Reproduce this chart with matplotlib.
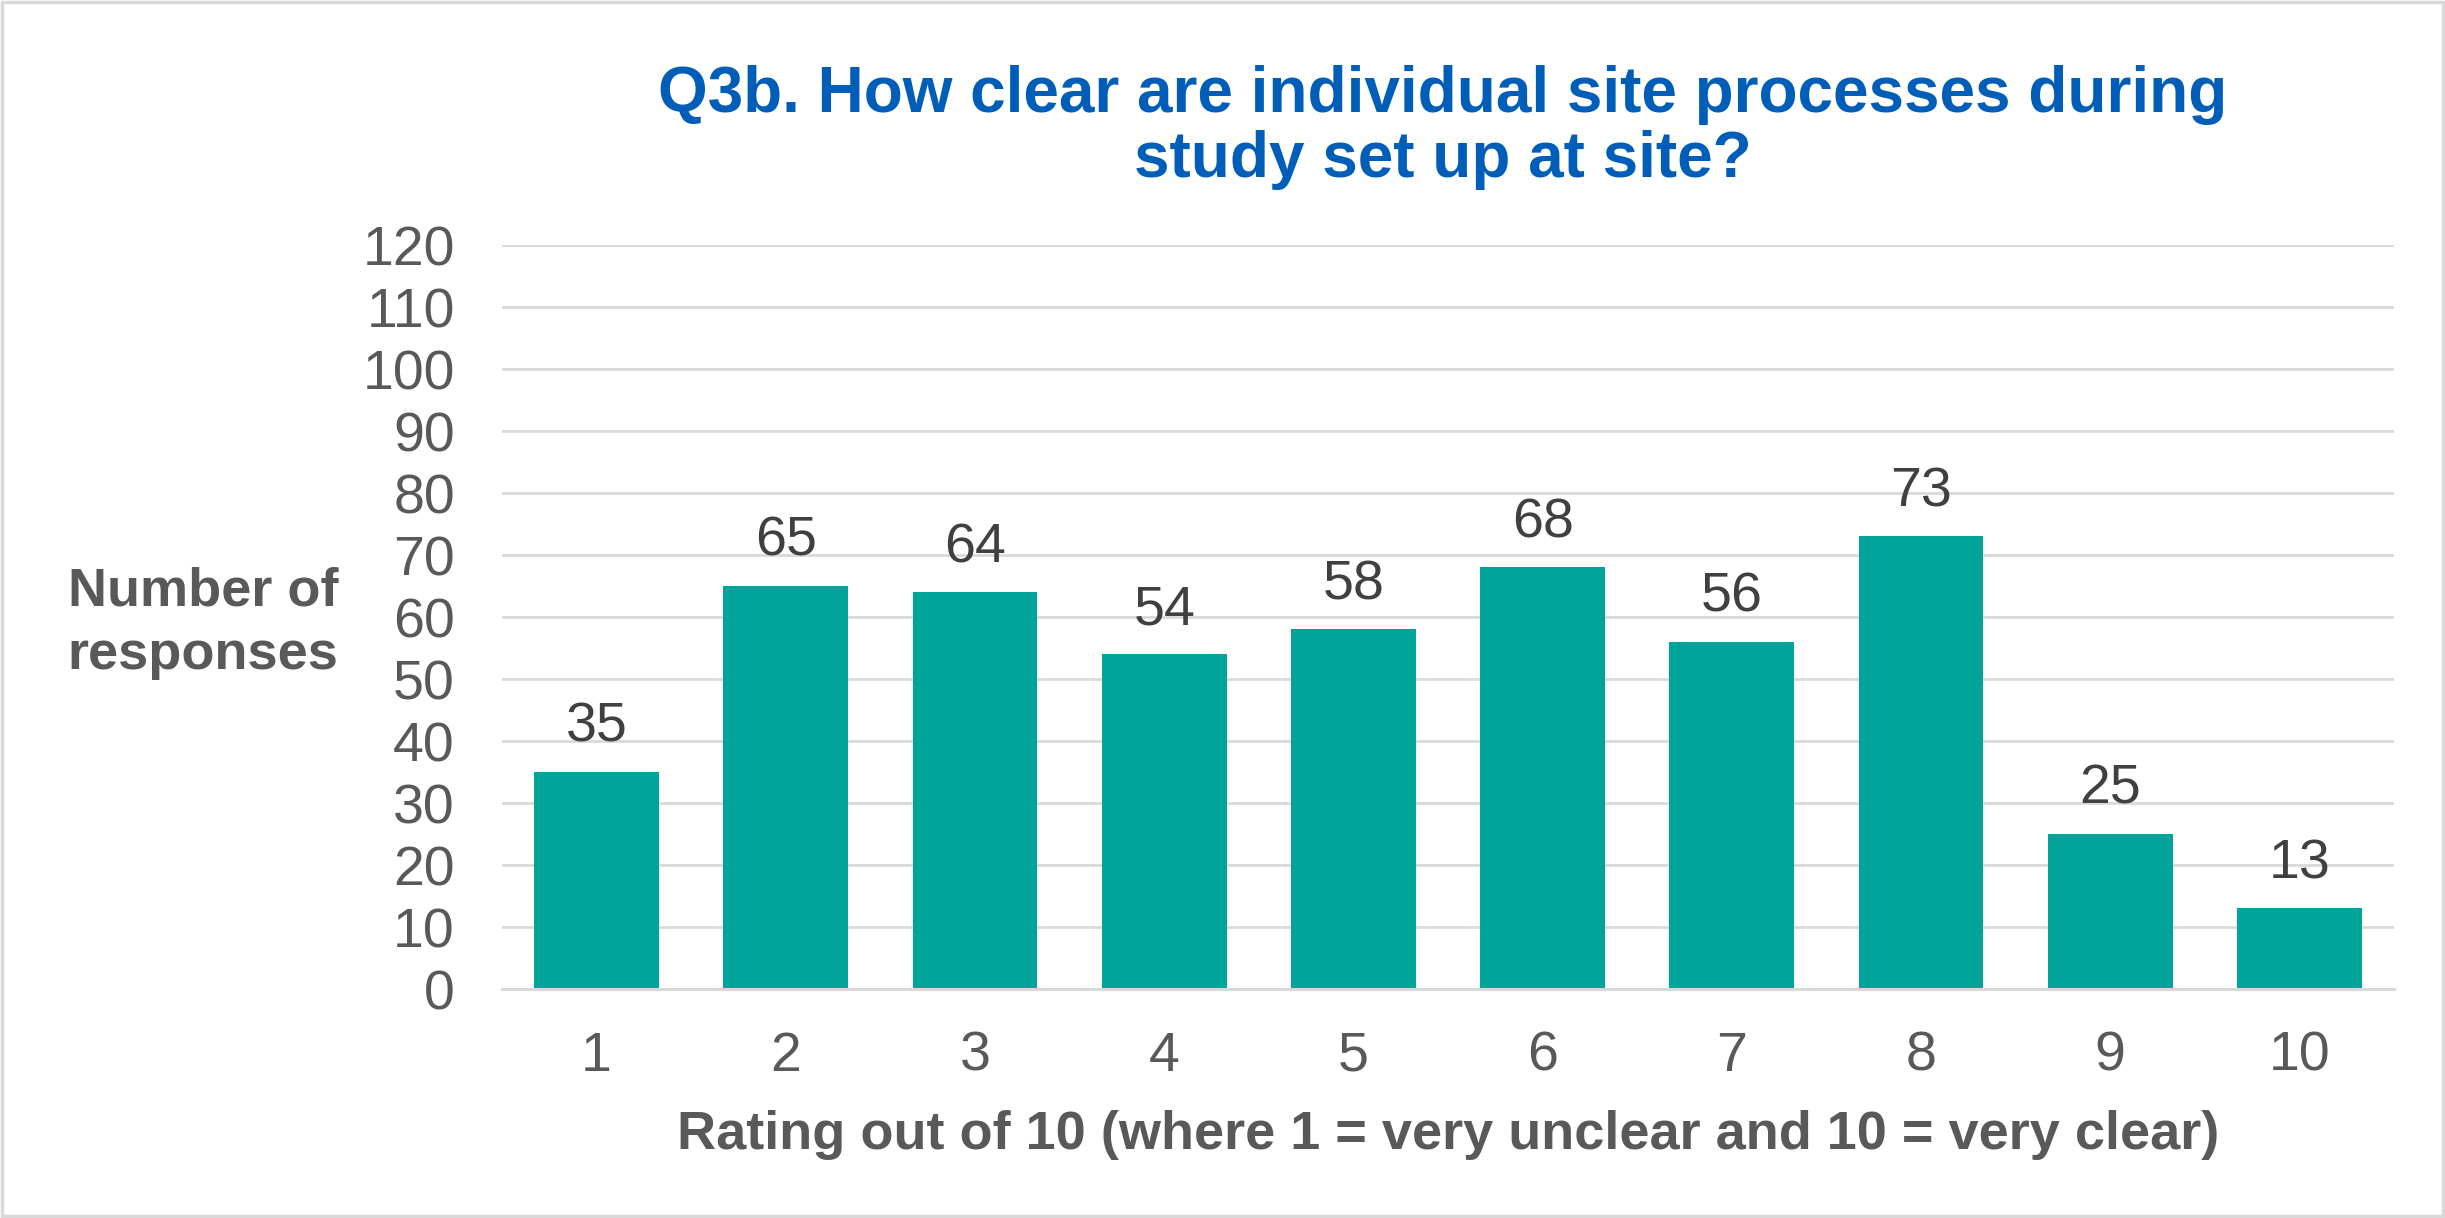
import matplotlib
matplotlib.use("Agg")
import matplotlib.pyplot as plt
from matplotlib.patches import Rectangle

categories = ["1", "2", "3", "4", "5", "6", "7", "8", "9", "10"]
values = [35, 65, 64, 54, 58, 68, 56, 73, 25, 13]
y_ticks = list(range(0, 121, 10))
title_lines = ["Q3b. How clear are individual site processes during", "study set up at site?"]
y_label_lines = ["Number of", "responses"]
x_label = "Rating out of 10 (where 1 = very unclear and 10 = very clear)"

plt.rcParams['font.family'] = ['Liberation Sans', 'DejaVu Sans']

W, H = 2445, 1218
dpi = 100
fig = plt.figure(figsize=(W / dpi, H / dpi), dpi=dpi)
fig.patch.set_facecolor("white")

left, right, top, bottom = 502, 2394, 245, 989
ax = fig.add_axes([left / W, 1 - bottom / H, (right - left) / W, (bottom - top) / H])

bar_color = "#00A499"
grid_color = "#D9D9D9"
text_gray = "#595959"
label_dark = "#404040"
title_blue = "#005EB8"

x = list(range(len(categories)))
bars = ax.bar(x, values, width=0.66, color=bar_color, zorder=3)
ax.set_xlim(-0.5, len(categories) - 0.5)
ax.set_ylim(0, 120)
ax.set_yticks(y_ticks)
ax.set_xticks(x)
ax.set_xticklabels(categories)
ax.yaxis.grid(True, color=grid_color, linewidth=2.0, zorder=0)
ax.set_axisbelow(True)
for s in ["top", "right", "left"]:
    ax.spines[s].set_visible(False)
ax.spines["bottom"].set_color(grid_color)
ax.spines["bottom"].set_linewidth(2.2)
ax.spines["bottom"].set_zorder(4)
ax.tick_params(axis="both", length=0, labelsize=40, colors=text_gray)
ax.tick_params(axis="y", pad=34)
ax.tick_params(axis="x", pad=30)

for xi, v in zip(x, values):
    ax.annotate(str(v), (xi, v), xytext=(0, 13), textcoords="offset points",
                ha="center", va="bottom", fontsize=40, color=label_dark)

# Title
fig.text(1443 / W, 1 - 112 / H, title_lines[0], ha="center", va="baseline",
         fontsize=46, fontweight="bold", color=title_blue)
fig.text(1443 / W, 1 - 177 / H, title_lines[1], ha="center", va="baseline",
         fontsize=46, fontweight="bold", color=title_blue)

# Y label
fig.text(203 / W, 1 - 606 / H, y_label_lines[0], ha="center", va="baseline",
         fontsize=39, fontweight="bold", color=text_gray)
fig.text(203 / W, 1 - 669 / H, y_label_lines[1], ha="center", va="baseline",
         fontsize=39, fontweight="bold", color=text_gray)

# X label
fig.text(1448 / W, 1 - 1149 / H, x_label, ha="center", va="baseline",
         fontsize=39, fontweight="bold", color=text_gray)

# Outer border
fig.patches.append(Rectangle((0.001, 0.002), 0.998, 0.996, transform=fig.transFigure,
                             fill=False, edgecolor=grid_color, linewidth=2.5))

fig.savefig("out.png", dpi=dpi, facecolor="white")
